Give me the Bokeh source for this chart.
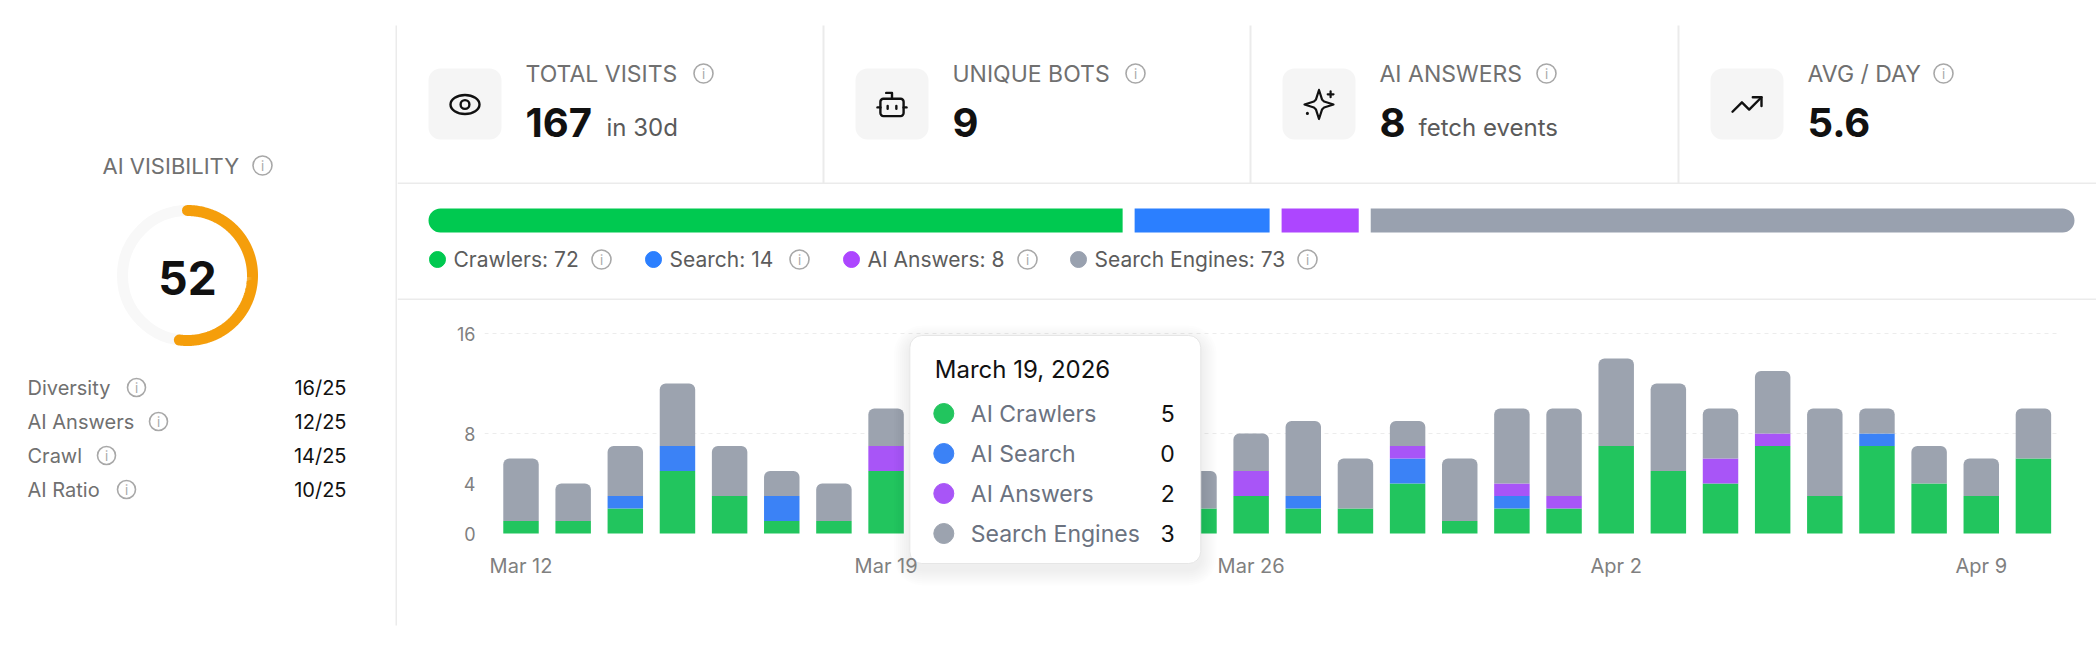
import numpy as np
import pandas as pd
from bokeh.core.properties import value
from bokeh.embed import file_html
from bokeh.layouts import column, row
from bokeh.models import FixedTicker, Range1d
from bokeh.plotting import figure
from bokeh.resources import INLINE

# ---- data ----
score = 52
score_parts = ["Diversity", "AI Answers", "Crawl", "AI Ratio"]
score_values = ["16/25", "12/25", "14/25", "10/25"]

stat_labels = ["TOTAL VISITS", "UNIQUE BOTS", "AI ANSWERS", "AVG / DAY"]
stat_values = ["167", "9", "8", "5.6"]
stat_units = ["in 30d", "", "fetch events", ""]

mix_names = ["Crawlers", "Search", "AI Answers", "Search Engines"]
mix_counts = [72, 14, 8, 73]

days = pd.date_range("2026-03-12", periods=30, freq="D")
series_names = ["AI Crawlers", "AI Search", "AI Answers", "Search Engines"]
crawlers = [1, 1, 2, 5, 3, 1, 1, 5, 3, 2, 2, 1, 3, 2, 3, 2, 2, 4, 1, 2, 2, 7, 5, 4, 7, 3, 7, 4, 3, 6]
search = [0, 0, 1, 2, 0, 2, 0, 0, 0, 0, 1, 0, 0, 0, 0, 1, 0, 2, 0, 1, 0, 0, 0, 0, 0, 0, 1, 0, 0, 0]
answers = [0, 0, 0, 0, 0, 0, 0, 2, 0, 0, 0, 0, 1, 0, 2, 0, 0, 1, 0, 1, 1, 0, 0, 2, 1, 0, 0, 0, 0, 0]
engines = [5, 3, 4, 5, 4, 2, 3, 3, 3, 4, 3, 4, 2, 3, 3, 6, 4, 2, 5, 6, 7, 7, 7, 4, 5, 7, 2, 3, 3, 4]
hover_day = 7
y_ticks = [0, 4, 8, 16]
x_ticks = [0, 7, 14, 21, 28]

# ---- style ----
FONT = value("Inter")
LINE = "#ebebeb"
MUTED = "#707070"
INFO = "#a8a8a8"
INK = "#111111"
ORANGE = "#f59e0b"
bar_colors = ["#22c55e", "#3b82f6", "#a855f7", "#9ca3af"]
mix_colors = ["#00c950", "#2b7fff", "#ad46ff", "#99a1af"]


def canvas(w, h):
    p = figure(width=w, height=h, x_range=Range1d(0, w), y_range=Range1d(h, 0),
               toolbar_location=None, output_backend="svg",
               x_axis_location=None, y_axis_location=None, min_border=0,
               outline_line_color=None, background_fill_color="white",
               border_fill_color="white", frame_align=False)
    p.grid.visible = False
    return p


def info(p, xs, ys, r=9.5):
    p.circle(x=xs, y=ys, radius=r, fill_color=None, line_color=INFO, line_width=1.6)
    p.text(x=xs, y=ys, text=["i"] * len(xs), text_font=FONT, text_font_size="13px",
           text_color=INFO, text_align="center", text_baseline="middle")


def txt(p, x, y, t, size, color, align="left", bold=False):
    p.text(x=x, y=y, text=t, text_font=FONT, text_font_size=size, text_color=color,
           text_align=align, text_baseline="middle",
           text_font_style="bold" if bold else "normal")


# ---- left panel: score gauge ----
left = canvas(397, 654)
left.segment(x0=[396], y0=[25], x1=[396], y1=[625], line_color=LINE, line_width=2)
txt(left, [102], [165], ["AI VISIBILITY"], "22px", MUTED)
info(left, [262], [165])
cx, cy, rad = 187, 275, 65
left.circle(x=[cx], y=[cy], radius=rad, fill_color=None, line_color="#f8f8f8", line_width=11)
t = np.linspace(0, 2 * np.pi * score / 100, 200)
left.line(cx + rad * np.sin(t), cy - rad * np.cos(t), line_color=ORANGE, line_width=11,
          line_cap="round")
txt(left, [cx], [cy + 2], [str(score)], "46px", INK, align="center", bold=True)
row_y = [387, 421, 455, 489]
txt(left, [27] * 4, row_y, score_parts, "20px", MUTED)
txt(left, [346] * 4, row_y, score_values, "20px", INK, align="right")
info(left, [136, 158, 106, 126], row_y, r=9)

# ---- stat cards ----
W = 1699
stats = canvas(W, 184)
card_x = [-1, 426, 853, 1281]
unit_dx = [210, 0, 168, 0]
info_dx = [307, 312, 296, 265]
stats.segment(x0=card_x[1:], y0=[25] * 3, x1=card_x[1:], y1=[183] * 3,
              line_color=LINE, line_width=2)
stats.segment(x0=[0], y0=[183], x1=[W], y1=[183], line_color=LINE, line_width=2)
stats.quad(left=[c + 32 for c in card_x], right=[c + 105 for c in card_x],
           top=[68] * 4, bottom=[139] * 4, fill_color="#f5f5f5", line_color=None,
           border_radius=12)
txt(stats, [c + 129 for c in card_x], [73] * 4, stat_labels, "23px", MUTED)
info(stats, [c + d for c, d in zip(card_x, info_dx)], [73] * 4)
txt(stats, [c + 129 for c in card_x], [122] * 4, stat_values, "40px", INK, bold=True)
txt(stats, [c + d for c, d in zip(card_x, unit_dx) if d], [127] * 2,
    [u for u in stat_units if u], "24px", "#5a5a5a")


def icon(p, cx, cy, pts, s=1.45, w=2.4):
    xs = [cx + (gx - 12) * s for gx, gy in pts]
    ys = [cy + (gy - 12) * s for gx, gy in pts]
    p.line(xs, ys, line_color=INK, line_width=w, line_cap="round", line_join="round")


icy = 104
# eye
ex = card_x[0] + 68.5
stats.ellipse(x=[ex], y=[icy], width=29, height=19, fill_color=None, line_color=INK,
              line_width=2.4)
stats.circle(x=[ex], y=[icy], radius=4.4, fill_color=None, line_color=INK, line_width=2.4)
# bot
bx = card_x[1] + 68.5
stats.quad(left=[bx - 8 * 1.45], right=[bx + 8 * 1.45], top=[icy - 4 * 1.45],
           bottom=[icy + 8 * 1.45], fill_color=None, line_color=INK, line_width=2.4,
           border_radius=3)
icon(stats, bx, icy, [(12, 8), (12, 4), (8, 4)])
icon(stats, bx, icy, [(2, 14), (4, 14)])
icon(stats, bx, icy, [(20, 14), (22, 14)])
icon(stats, bx, icy, [(15, 13), (15, 15)])
icon(stats, bx, icy, [(9, 13), (9, 15)])
# sparkles
sx = card_x[2] + 68.5
icon(stats, sx, icy, [(12, 2), (14.06, 8.5), (15.5, 9.94), (22, 12), (15.5, 14.06),
                      (14.06, 15.5), (12, 22), (9.94, 15.5), (8.5, 14.06), (2, 12),
                      (8.5, 9.94), (9.94, 8.5), (12, 2)], w=2.2)
icon(stats, sx, icy, [(20, 3), (20, 7)], w=2.2)
icon(stats, sx, icy, [(18, 5), (22, 5)], w=2.2)
icon(stats, sx, icy, [(4, 18), (4, 18.2)], w=3)
# trending up
tx = card_x[3] + 68.5
icon(stats, tx, icy, [(2, 17), (8.5, 10.5), (13.5, 15.5), (22, 7)])
icon(stats, tx, icy, [(16, 7), (22, 7), (22, 13)])

# ---- traffic mix bar ----
mix = canvas(W, 116)
x0, x1, gap = 31, 1677, 12
avail = x1 - x0 - gap * (len(mix_counts) - 1)
widths = [avail * c / sum(mix_counts) for c in mix_counts]
pos = x0
radii = [(12, 0, 0, 12), 0, 0, (0, 12, 12, 0)]
for wdt, col, br in zip(widths, mix_colors, radii):
    mix.hbar(y=[36], height=24, left=[pos], right=[pos + wdt], fill_color=col,
             line_color=None, border_radius=br)
    pos += wdt + gap
dot_x = [40, 256, 454, 681]
mix.scatter(x=dot_x, y=[75] * 4, size=16, color=mix_colors)
txt(mix, [d + 16 for d in dot_x], [75] * 4,
    [f"{n}: {c}" for n, c in zip(mix_names, mix_counts)], "21px", "#5c5c5c")
info(mix, [204, 402, 630, 910], [75] * 4)
mix.segment(x0=[0], y0=[115], x1=[W], y1=[115], line_color=LINE, line_width=2)

# ---- daily stacked bars ----
PPX = 1565 / 30
PPY = 12.5
XPAD = 0.2


def X(px):
    return (px - 494) / PPX - 0.5


def Y(py):
    return (533 - py) / PPY


chart = figure(width=W, height=354, x_range=Range1d(-0.5 - XPAD, 29.5),
               y_range=Range1d(Y(590), Y(320)), toolbar_location=None,
               output_backend="svg", min_border_left=round(97 - XPAD * PPX),
               min_border_right=W - 1662, min_border_top=20, min_border_bottom=64,
               outline_line_color=None, background_fill_color="white",
               border_fill_color="white", frame_align=False)
chart.xgrid.visible = False
chart.ygrid.ticker = FixedTicker(ticks=[8, 16])
chart.ygrid.grid_line_color = "#ececec"
chart.ygrid.grid_line_dash = "4 4"

stack = np.array([crawlers, search, answers, engines])
tops = np.cumsum(stack, axis=0)
idx = np.arange(len(days))
for i, col in enumerate(bar_colors):
    chart.vbar(x=idx, width=0.68, bottom=tops[i] - stack[i], top=tops[i],
               fill_color=col, line_color=None,
               border_radius=(6, 6, 0, 0) if i == len(bar_colors) - 1 else 0)

for ax in (chart.xaxis[0], chart.yaxis[0]):
    ax.axis_line_color = None
    ax.major_tick_line_color = None
    ax.minor_tick_line_color = None
    ax.major_label_text_font = "Inter"
    ax.major_label_text_color = "#808080"
chart.yaxis.ticker = FixedTicker(ticks=y_ticks)
chart.yaxis.major_label_text_font_size = "18px"
chart.yaxis.major_label_standoff = 3
chart.xaxis.ticker = FixedTicker(ticks=x_ticks)
chart.xaxis.major_label_overrides = {i: days[i].strftime("%b %-d") for i in x_ticks}
chart.xaxis.major_label_text_font_size = "20px"
chart.xaxis.major_label_standoff = 14
chart.xaxis.fixed_location = 0

# tooltip for the hovered day
tl, tr, tt, tb = 909, 1200, 335, 563
for k in range(1, 9):
    e = k * 2
    chart.quad(left=[X(tl - e)], right=[X(tr + e)], top=[Y(tt - e + 6)],
               bottom=[Y(tb + e + 6)], fill_color="black", fill_alpha=0.008,
               line_color=None, border_radius=12 + e)
chart.quad(left=[X(tl)], right=[X(tr)], top=[Y(tt)], bottom=[Y(tb)],
           fill_color="white", line_color="#e6e6e6", line_width=1, border_radius=12)
txt(chart, [X(934)], [Y(369)], [days[hover_day].strftime("%B %-d, %Y")], "24px", INK)
ty = [Y(v) for v in (413, 453, 493, 533)]
chart.scatter(x=[X(943)] * 4, y=ty, size=20, color=bar_colors)
txt(chart, [X(970)] * 4, ty, series_names, "23px", "#6b7280")
txt(chart, [X(1174)] * 4, ty, [str(v) for v in stack[:, hover_day]], "23px", INK,
    align="right")

layout = row(left, column(stats, mix, chart))
open("out.html", "w").write(file_html(layout, INLINE))
